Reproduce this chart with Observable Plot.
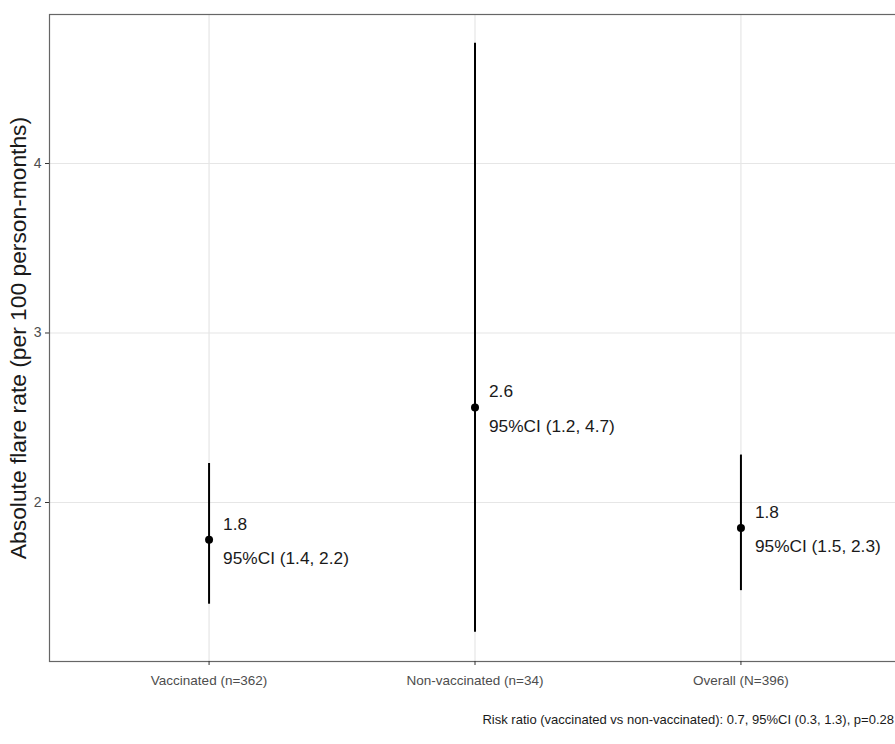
<!DOCTYPE html>
<html>
<head>
<meta charset="utf-8">
<script src="https://cdn.jsdelivr.net/npm/d3@7"></script>
<script src="https://cdn.jsdelivr.net/npm/@observablehq/plot@0.6"></script>
<style>
  html, body { margin: 0; padding: 0; background: #fff; overflow: hidden; }
  #wrap { width: 900px; font-family: "Liberation Sans", Arial, Helvetica, sans-serif; }
  #caption { text-align: right; font-size: 13px; color: #1a1a1a; padding-right: 6px; padding-top: 12px; line-height: 16px; white-space: nowrap; }
</style>
</head>
<body>
<div id="wrap">
  <div id="chart"></div>
  <div id="caption"></div>
</div>
<script>
// ---- data ----
const categories = ["Vaccinated (n=362)", "Non-vaccinated (n=34)", "Overall (N=396)"];
const rate = [1.78, 2.56, 1.85];
const lower = [1.40, 1.235, 1.48];
const upper = [2.23, 4.71, 2.28];
const rateLabels = ["1.8", "2.6", "1.8"];
const ciLabels = ["95%CI (1.4, 2.2)", "95%CI (1.2, 4.7)", "95%CI (1.5, 2.3)"];
const yTicks = [2, 3, 4];
const yDomain = [1.062, 4.879];
const yLabel = "Absolute flare rate (per 100 person-months)";
const captionText = "Risk ratio (vaccinated vs non-vaccinated): 0.7, 95%CI (0.3, 1.3), p=0.28";

const data = categories.map((c, i) => ({
  group: c, rate: rate[i], lower: lower[i], upper: upper[i],
  label: rateLabels[i] + "\n" + ciLabels[i]
}));

const chart = Plot.plot({
  width: 900,
  height: 700,
  marginLeft: 49,
  marginRight: 0,
  marginTop: 14,
  marginBottom: 39,
  style: { fontFamily: "'Liberation Sans', Arial, Helvetica, sans-serif", background: "#fff" },
  x: { type: "point", domain: categories, padding: 0.6, round: false, label: null },
  y: { domain: yDomain, label: null },
  marks: [
    Plot.gridY(yTicks, { stroke: "#e6e6e6", strokeOpacity: 1, strokeWidth: 1.2 }),
    Plot.gridX(categories, { stroke: "#e6e6e6", strokeOpacity: 1, strokeWidth: 1.2 }),
    Plot.frame({ stroke: "#666", strokeWidth: 1.2 }),
    Plot.axisY({ ticks: yTicks, tickFormat: d => String(d), tickSize: 4, tickPadding: 4, fontSize: 14, fill: "#4d4d4d", stroke: "#333", label: null }),
    Plot.axisX({ tickSize: 4, tickPadding: 10, fontSize: 13.5, fill: "#4d4d4d", stroke: "#333", label: null }),
    Plot.text([yLabel], { frameAnchor: "left", textAnchor: "middle", rotate: -90, dx: -31, fontSize: 22.8, fill: "#1a1a1a" }),
    Plot.ruleX(data, { x: "group", y1: "lower", y2: "upper", stroke: "#000", strokeWidth: 2 }),
    Plot.dot(data, { x: "group", y: "rate", r: 4, fill: "#000", stroke: null }),
    Plot.text(data, { x: "group", y: "rate", text: "label", textAnchor: "start", dx: 14, dy: -4, fontSize: 17.3, lineHeight: 1.97, fill: "#1a1a1a" })
  ]
});
document.getElementById("chart").appendChild(chart);
document.getElementById("caption").textContent = captionText;
</script>
</body>
</html>
